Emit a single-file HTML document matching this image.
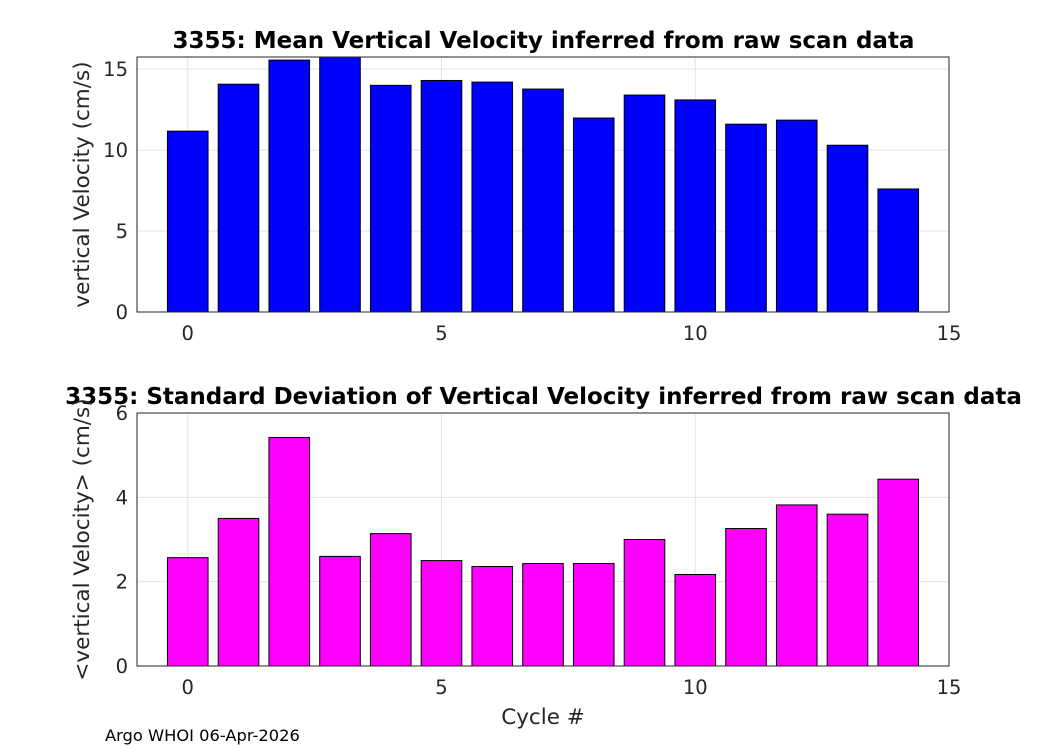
<!DOCTYPE html>
<html><head><meta charset="utf-8"><style>
body{margin:0;background:#fff;}
svg{display:block;font-family:"DejaVu Sans","Liberation Sans",sans-serif;}
</style></head><body>
<svg id="chart" width="1050" height="750"></svg>
<script>
const categories=[0,1,2,3,4,5,6,7,8,9,10,11,12,13,14];
const meanVelocity=[11.17,14.07,15.56,15.8,14.0,14.3,14.2,13.77,11.98,13.4,13.1,11.6,11.85,10.3,7.6];
const stdVelocity=[2.57,3.5,5.42,2.6,3.14,2.5,2.36,2.43,2.43,3.0,2.17,3.26,3.82,3.6,4.43];
const xTicks=[0,5,10,15];
const topYTicks=[0,5,10,15];
const botYTicks=[0,2,4,6];
const NS="http://www.w3.org/2000/svg";
const svg=document.getElementById('chart');
function mk(t,a,p){const e=document.createElementNS(NS,t);for(const k in a)e.setAttribute(k,a[k]);(p||svg).appendChild(e);return e;}
function panel(o){
  const g=mk('g',{});
  
  
  const X=v=>o.x0+(v-(-1))/(16)*(o.x1-o.x0);
  const Y=v=>o.y1-(v/o.ymax)*(o.y1-o.y0);
  mk('rect',{x:o.x0,y:o.y0,width:o.x1-o.x0,height:o.y1-o.y0,fill:'#fff'},g);
  xTicks.forEach(t=>{
    const l=mk('line',{x1:X(t),x2:X(t),y1:o.y0,y2:o.y1,stroke:'#e3e3e3','stroke-width':1},g);
    
    const tx=mk('text',{x:X(t),y:o.y1+28,'text-anchor':'middle','font-size':19.5,fill:'#262626'},g);
    tx.textContent=t;
  });
  o.yTicks.forEach(t=>{
    const l=mk('line',{x1:o.x0,x2:o.x1,y1:Y(t),y2:Y(t),stroke:'#e3e3e3','stroke-width':1},g);
    
    const tx=mk('text',{x:o.x0-9,y:Y(t)+7,'text-anchor':'end','font-size':19.5,fill:'#262626'},g);
    tx.textContent=t;
  });
  const cp='clip'+o.name;
  const c=mk('clipPath',{id:cp},g);mk('rect',{x:o.x0,y:o.y0,width:o.x1-o.x0,height:o.y1-o.y0},c);
  const bg=mk('g',{'clip-path':'url(#'+cp+')'},g);
  categories.forEach((c,i)=>{
    const v=Math.min(o.vals[i],o.ymax+1);
    const r=mk('rect',{x:X(c-0.4),y:Y(v),width:X(c+0.4)-X(c-0.4),height:Y(0)-Y(v),fill:o.color,stroke:'#000','stroke-width':1},bg);
    
  });
  const b=mk('rect',{x:o.x0,y:o.y0,width:o.x1-o.x0,height:o.y1-o.y0,fill:'none',stroke:'#262626','stroke-width':1},g);
  
  const t=mk('text',{x:(o.x0+o.x1)/2+0.5,y:o.y0-9,'text-anchor':'middle','font-size':23,'font-weight':'bold',fill:'#000'},g);
  t.textContent=o.title;
  const yl=mk('text',{x:0,y:0,'text-anchor':'middle','font-size':21.5,fill:'#262626',transform:`translate(${o.x0-48},${(o.y0+o.y1)/2}) rotate(-90)`},g);
  yl.textContent=o.ylabel;
}
panel({name:'mean-velocity-panel',x0:137,x1:949,y0:57,y1:312,ymax:15.75,yTicks:topYTicks,vals:meanVelocity,color:'#0000ff',
  title:'3355: Mean Vertical Velocity inferred from raw scan data',ylabel:'vertical Velocity (cm/s)'});
panel({name:'std-velocity-panel',x0:137,x1:949,y0:413,y1:666,ymax:6,yTicks:botYTicks,vals:stdVelocity,color:'#ff00ff',
  title:'3355: Standard Deviation of Vertical Velocity inferred from raw scan data',ylabel:'<vertical Velocity> (cm/s)'});
const xl=mk('text',{x:543,y:724,'text-anchor':'middle','font-size':21.5,fill:'#262626'});
xl.textContent='Cycle #';


const ft=mk('text',{x:105,y:741,'font-size':16.3,fill:'#000'});
ft.textContent='Argo WHOI 06-Apr-2026';


</script>
</body></html>
